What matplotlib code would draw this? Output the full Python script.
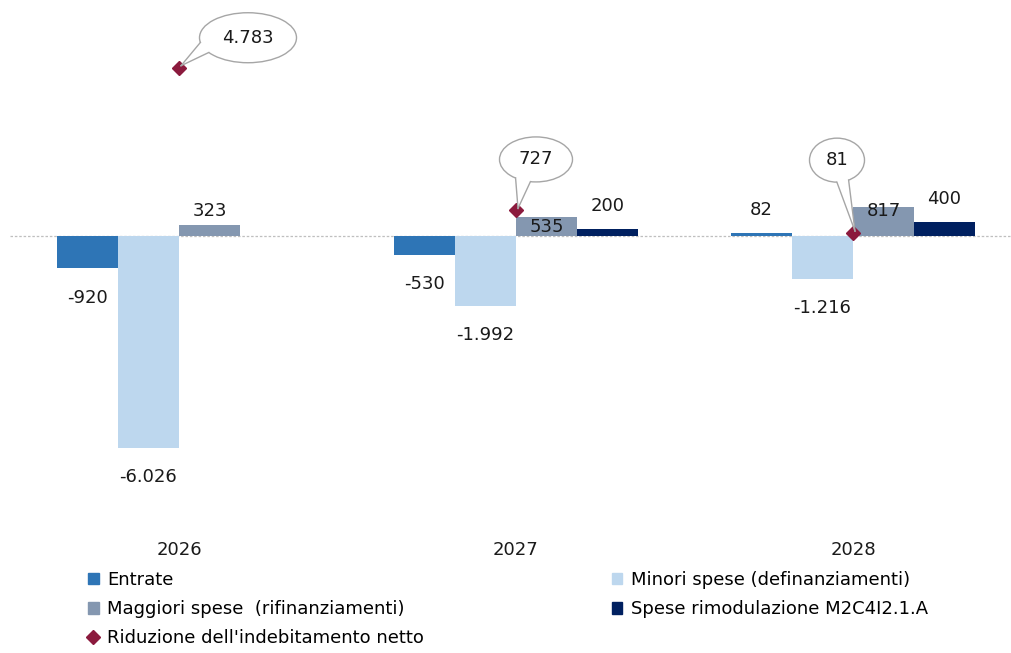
import numpy as np
import matplotlib.pyplot as plt
from matplotlib.patches import Ellipse, Polygon, Patch
from matplotlib.lines import Line2D
from matplotlib.transforms import IdentityTransform

plt.rcParams['font.family'] = ['DejaVu Sans']

years = ['2026', '2027', '2028']
entrate = [-920, -530, 82]
minori_spese = [-6026, -1992, -1216]
maggiori_spese = [323, 535, 817]
spese_rimod = [0, 200, 400]
riduzione = [4783, 727, 81]

series_names = ['Entrate', 'Minori spese (definanziamenti)',
                'Maggiori spese  (rifinanziamenti)', 'Spese rimodulazione M2C4I2.1.A']
series_vals = [entrate, minori_spese, maggiori_spese, spese_rimod]
colors = ['#2E75B6', '#BDD7EE', '#8497B0', '#002060']
diamond_col = '#8B1A3D'
riduzione_name = "Riduzione dell'indebitamento netto"


def fmt(v):
    return f"{v:,}".replace(",", ".")


W, H = 1012, 653
fig = plt.figure(figsize=(W / 100, H / 100), dpi=100)
# axes box in pixels (left, top, right, bottom)
px_l, px_t, px_r, px_b = 10, 0, 1012, 530
ax = fig.add_axes([px_l / W, 1 - px_b / H, (px_r - px_l) / W, (px_b - px_t) / H])

# scales: 337 px per category, 0.03518 px per unit
x_per = 337.0
y_per = 212.0 / 6026
x0_px, y0_px = 179, 236
ax.set_xlim((px_l - x0_px) / x_per, (px_r - x0_px) / x_per)
ax.set_ylim(-(px_b - y0_px) / y_per, (y0_px - px_t) / y_per)

x = np.arange(len(years))
bw = 61 / x_per
offsets = [-1.5, -0.5, 0.5, 1.5]

# label offset overrides (points) for labels Excel moved inside bars
label_override = {(2, 0): 10, (2, 1): -7, (2, 2): -3}

for i, (name, vals, c) in enumerate(zip(series_names, series_vals, colors)):
    ax.bar(x + offsets[i] * bw, vals, bw, color=c, zorder=2)
    for j, v in enumerate(vals):
        if v == 0:
            continue
        if (i, j) in label_override:
            dy = label_override[(i, j)]
        elif v > 0:
            dy = 16.5
        else:
            dy = -21
        ax.annotate(fmt(v), (x[j] + offsets[i] * bw, v), xytext=(0, dy),
                    textcoords='offset points', ha='center', va='center',
                    fontsize=13, color='#1a1a1a', zorder=5)

ax.plot(x, riduzione, ls='none', marker='D', ms=7.5, color=diamond_col, zorder=4)

ax.axhline(0, color='#BFBFBF', lw=0.9, ls=(0, (2, 1.5)), zorder=1)

ax.set_xticks(x)
ax.set_xticklabels(years, fontsize=13, color='#1a1a1a')
ax.tick_params(axis='x', length=0, pad=8)
ax.set_yticks([])
for s in ax.spines.values():
    s.set_visible(False)

# ellipse callouts: offset of ellipse centre from the diamond, and size (px)
callouts = [(69, 30, 97, 50), (20, 51, 73, 45), (-16, 73, 55, 44)]
fig.canvas.draw()
for j, v in enumerate(riduzione):
    px, py = ax.transData.transform((x[j], v))
    dx, dy, ew, eh = callouts[j]
    cx, cy = px + dx, py + dy
    tip = (px + 2, py + 2)
    ang = np.arctan2(py - cy, px - cx)
    spread = 0.22
    edge_pts, fill_pts = [], []
    for a in (ang - spread, ang + spread):
        edge_pts.append((cx + 0.5 * ew * np.cos(a), cy + 0.5 * eh * np.sin(a)))
        fill_pts.append((cx + 0.44 * ew * np.cos(a), cy + 0.44 * eh * np.sin(a)))
    ell = Ellipse((cx, cy), ew, eh, transform=IdentityTransform(),
                  facecolor='white', edgecolor='#A6A6A6', lw=1.0, zorder=6)
    fig.add_artist(ell)
    wedge = Polygon([fill_pts[0], edge_pts[0], tip, edge_pts[1], fill_pts[1]],
                    closed=True, transform=IdentityTransform(),
                    facecolor='white', edgecolor='none', zorder=6.5)
    fig.add_artist(wedge)
    for b in edge_pts:
        fig.add_artist(Line2D([b[0], tip[0]], [b[1], tip[1]], color='#A6A6A6',
                              lw=1.0, transform=IdentityTransform(), zorder=6.6))
    fig.text(cx, cy, fmt(v), transform=IdentityTransform(), ha='center',
             va='center', fontsize=13, color='#1a1a1a', zorder=7)

handles = [Patch(color=colors[0]), Patch(color=colors[2]),
           Line2D([], [], ls='none', marker='D', ms=7, color=diamond_col),
           Patch(color=colors[1]), Patch(color=colors[3])]
labels = [series_names[0], series_names[2], riduzione_name,
          series_names[1], series_names[3]]
fig.legend(handles, labels, loc='upper left', bbox_to_anchor=(88 / W, 1 - 571 / H),
           ncol=2, frameon=False, fontsize=13, handlelength=0.6, handleheight=0.6,
           handletextpad=0.45, columnspacing=10.4, labelspacing=0.62,
           borderpad=0, borderaxespad=0)

fig.savefig('out.png', dpi=100)
